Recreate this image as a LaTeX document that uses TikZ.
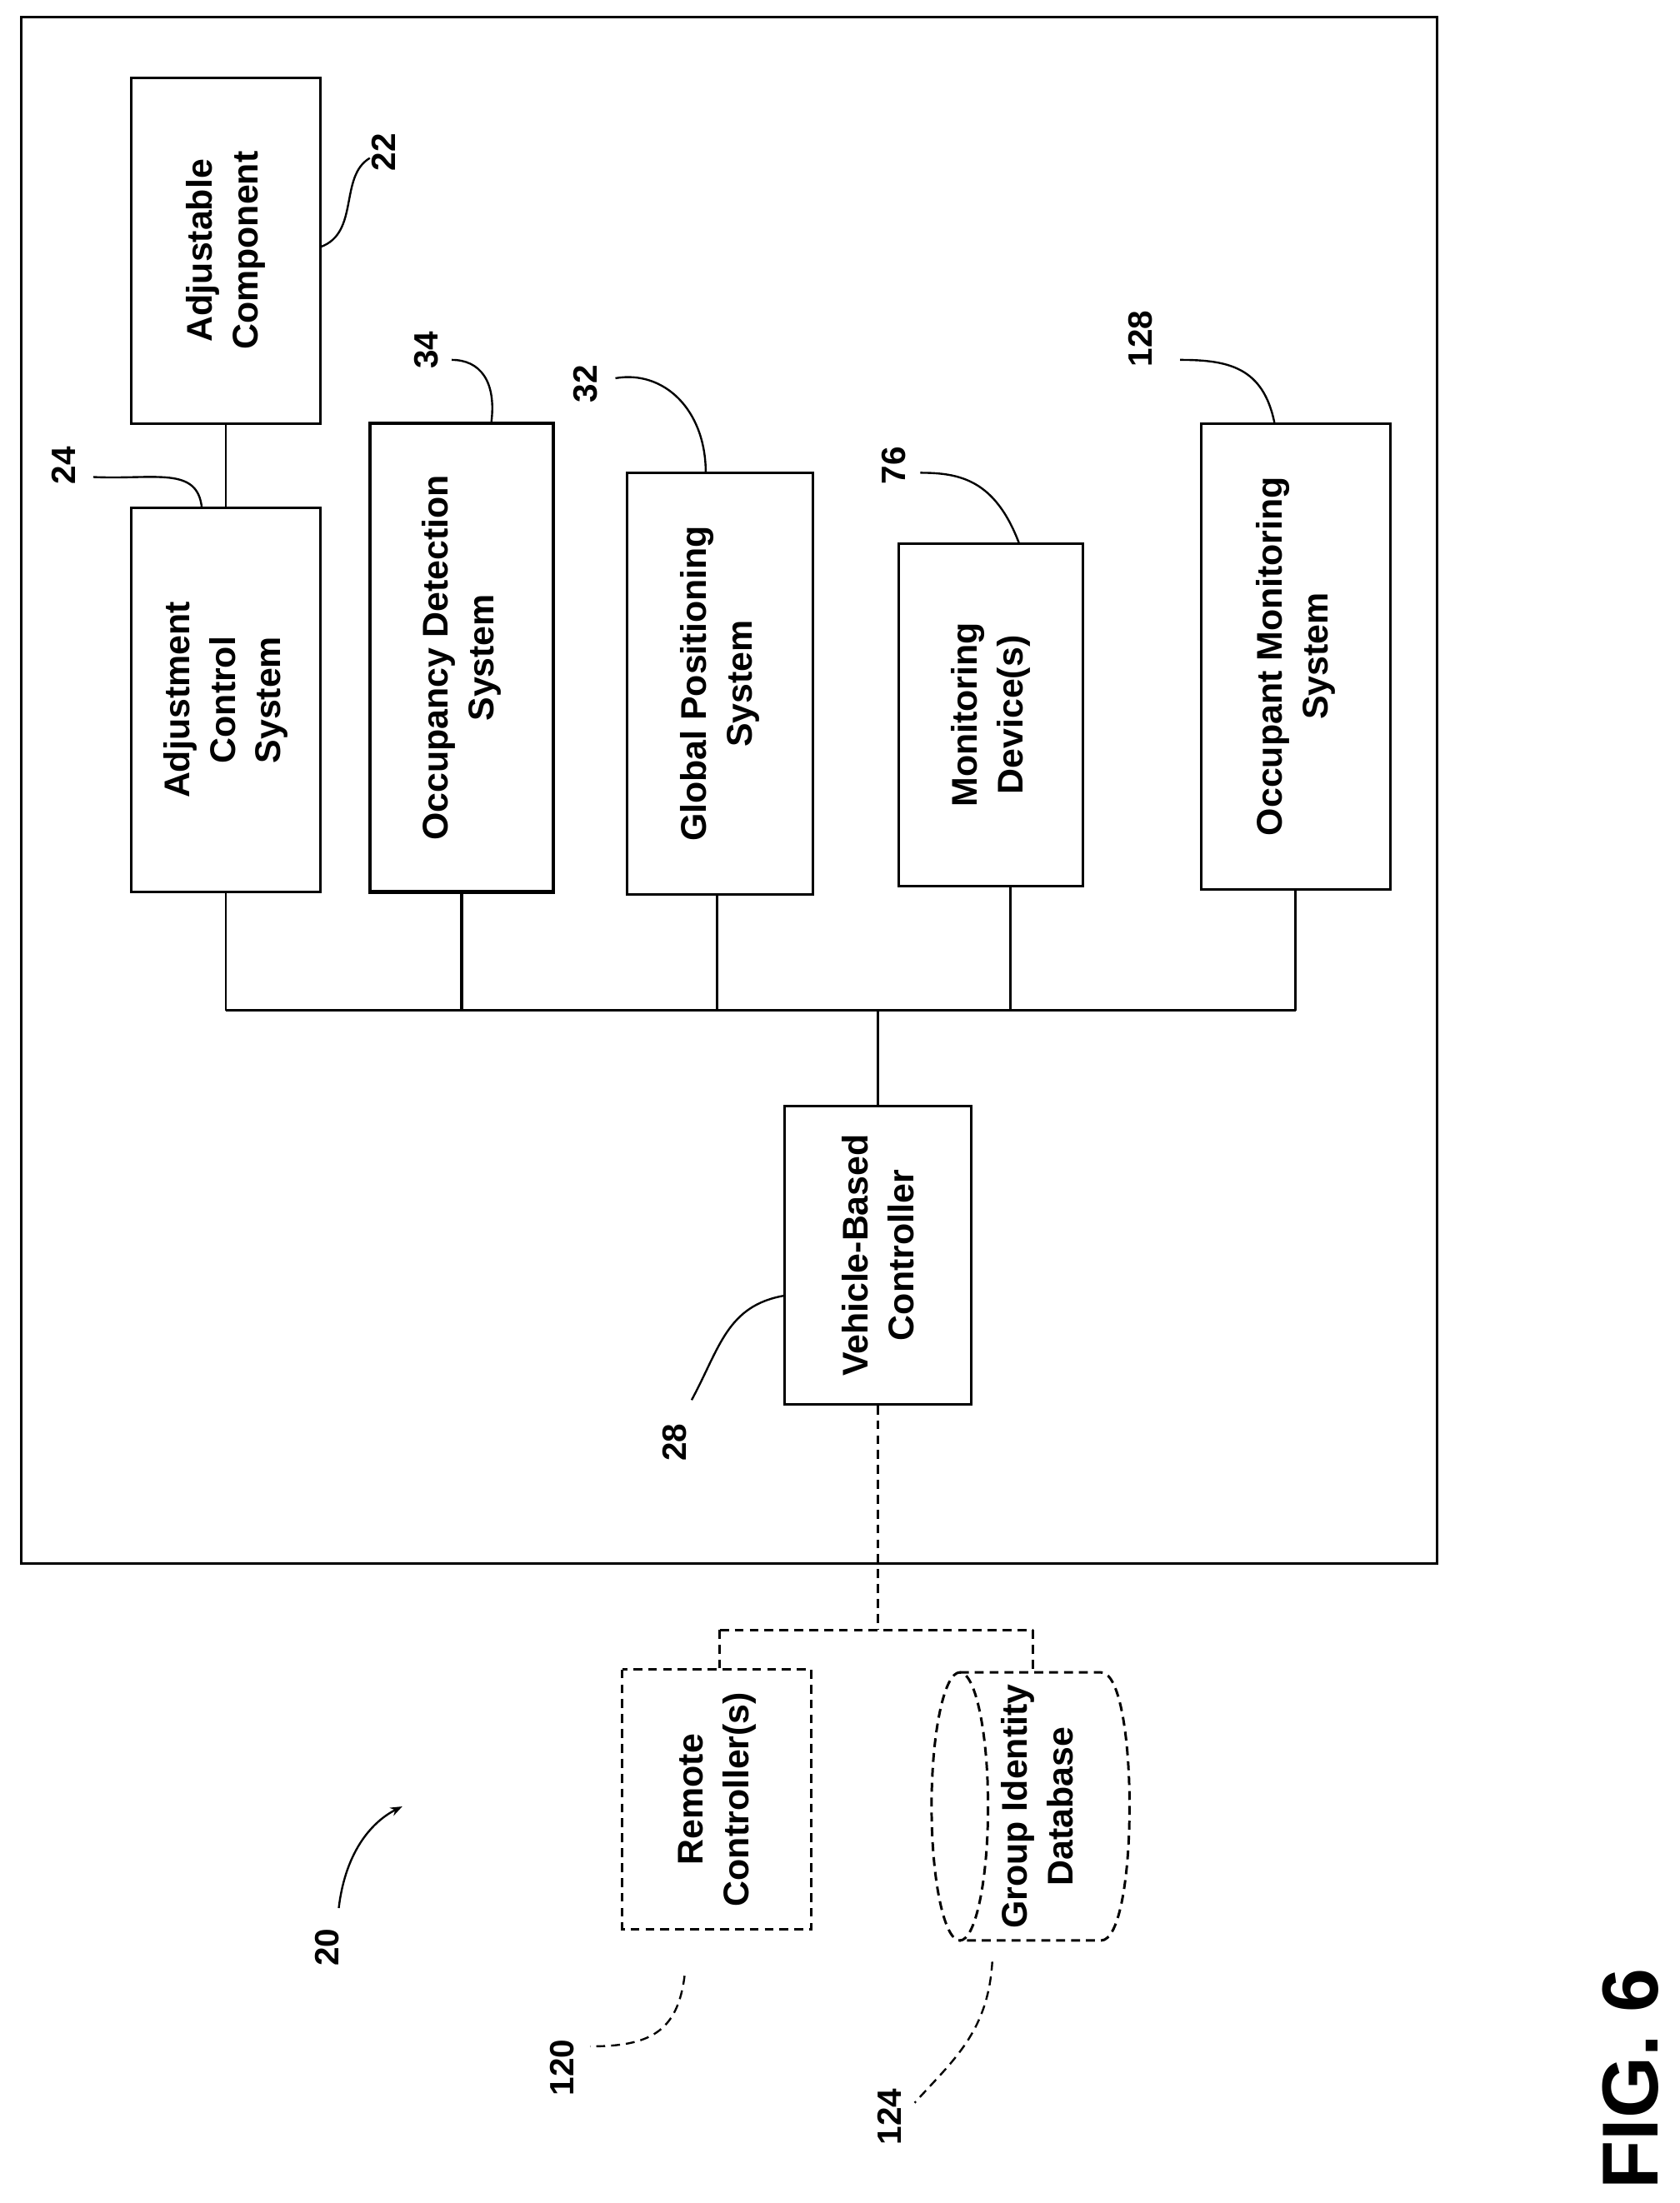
\documentclass[tikz,border=0pt]{standalone}
\usepackage{fontspec}
\setmainfont{Liberation Sans}
\usetikzlibrary{positioning,arrows.meta}
\begin{document}
\begin{tikzpicture}[x=0.05cm,y=-0.05cm,>=Stealth,line width=2.5pt]
\tikzstyle{blk}=[rectangle,draw,rotate=90,align=center,inner sep=0pt,font=\fontsize{36}{46}\selectfont\bfseries]
\tikzstyle{num}=[rotate=90,font=\fontsize{34}{40}\selectfont\bfseries]
\tikzstyle{lead}=[line width=2pt]
\tikzstyle{dsh}=[dash pattern=on 9pt off 6pt]
\useasboundingbox (0,0) rectangle (1190,1561);

% Vehicle boundary
\draw (15,12) rectangle (1018,1108);

% Blocks
\node[blk,minimum width=12.25cm,minimum height=6.7cm] (AC) at (160,177.5) {Adjustable\\Component};
\node[blk,minimum width=13.6cm,minimum height=6.7cm] (ACS) at (160,496) {Adjustment\\Control\\System};
\node[blk,line width=3.8pt,minimum width=16.6cm,minimum height=6.5cm] (ODS) at (327,466) {Occupancy Detection\\System};
\node[blk,minimum width=14.95cm,minimum height=6.6cm] (GPS) at (510,484.5) {Global Positioning\\System};
\node[blk,minimum width=12.15cm,minimum height=6.5cm] (MD) at (702,506.5) {Monitoring\\Device(s)};
\node[blk,minimum width=16.5cm,minimum height=6.7cm] (OMS) at (918,465) {Occupant Monitoring\\System};
\node[blk,minimum width=10.55cm,minimum height=6.6cm] (VBC) at (622,889.5) {Vehicle-Based\\Controller};
\node[blk,dsh,minimum width=9.2cm,minimum height=6.7cm] (RC) at (508,1275) {Remote\\Controller(s)};

% Group identity database (cylinder)
\draw[dsh] (680,1185) -- (780,1185) .. controls (807,1185) and (807,1375) .. (780,1375) -- (680,1375);
\draw[dsh] (680,1280) ellipse [x radius=20,y radius=95];
\node[blk,draw=none] (GID) at (735,1280) {Group Identity\\Database};

% Bus
\coordinate (b1) at (160,716);
\coordinate (b2) at (327,716);
\coordinate (b3) at (508,716);
\coordinate (b4) at (622,716);
\coordinate (b5) at (716,716);
\coordinate (b6) at (918,716);
\draw (b1) -- (b6);
\draw (ACS.west) -- (b1);
\draw[line width=3.8pt] (ODS.west) -- (b2);
\draw (GPS.west -| b3) -- (b3);
\draw (MD.west -| b5) -- (b5);
\draw (OMS.west) -- (b6);
\draw (b4) -- (VBC.east);
\draw (AC.west) -- (ACS.east);

% Remote link
\coordinate (d0) at (622,1155);
\coordinate (d1) at (510,1155);
\coordinate (d2) at (732,1155);
\draw[dsh] (VBC.west) -- (d0);
\draw[dsh] (d1) -- (d2);
\draw[dsh] (d1) -- (d1 |- RC.east);
\draw[dsh] (d2) -- (732,1185);

% Reference numerals
\node[num] (n22) at (272,108) {22};
\draw[lead] (227,175) .. controls (255,165) and (240,125) .. (262,112);
\node[num] (n24) at (45,330) {24};
\draw[lead] (143,360) .. controls (140,330) and (110,340) .. (66,338);
\node[num] (n34) at (302,248) {34};
\draw[lead] (348,300) .. controls (352,270) and (340,255) .. (320,255);
\node[num] (n32) at (415,272) {32};
\draw[lead] (500,335) .. controls (500,290) and (470,262) .. (436,268);
\node[num] (n76) at (633,330) {76};
\draw[lead] (722,385) .. controls (705,340) and (680,335) .. (652,335);
\node[num] (n128) at (808,240) {128};
\draw[lead] (903,300) .. controls (895,260) and (870,255) .. (836,255);
\node[num] (n28) at (478,1022) {28};
\draw[lead] (556,918) .. controls (515,925) and (510,955) .. (490,992);
\node[num] (n20) at (232,1380) {20};
\draw[lead,->] (240,1352) .. controls (245,1310) and (265,1290) .. (285,1280);
\node[num] (n120) at (398,1465) {120};
\draw[lead,dsh] (485,1400) .. controls (480,1440) and (460,1450) .. (418,1450);
\node[num] (n124) at (630,1500) {124};
\draw[lead,dsh] (703,1390) .. controls (700,1440) and (675,1460) .. (648,1490);

\node[rotate=90,anchor=west,inner sep=0pt,font=\fontsize{80}{88}\selectfont\bfseries] (fig) at (1155,1552) {FIG. 6};
\end{tikzpicture}
\end{document}
